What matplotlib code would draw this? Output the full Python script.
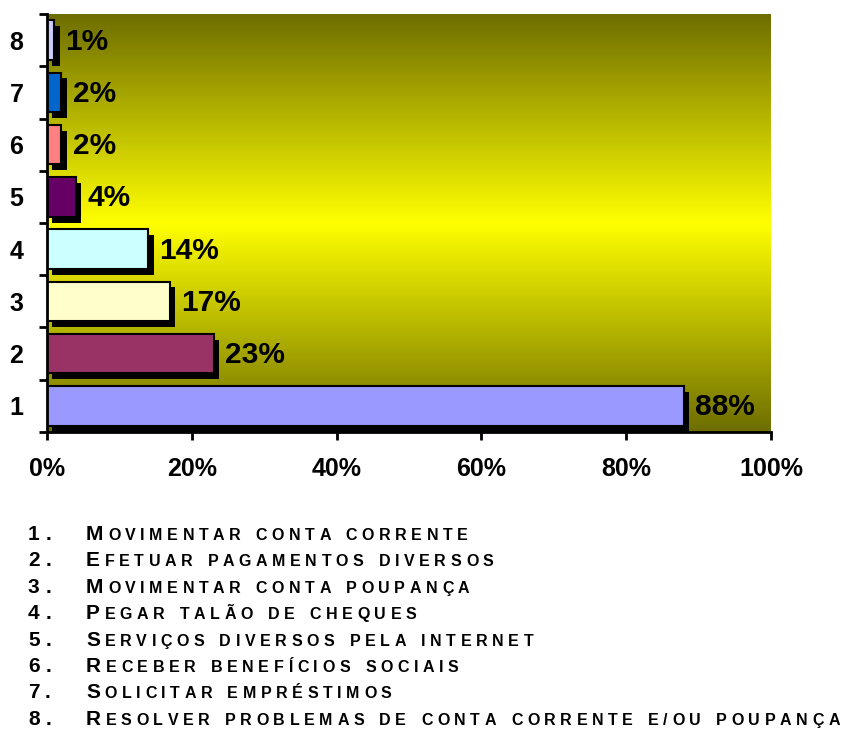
import numpy as np
import matplotlib
matplotlib.use("Agg")
import matplotlib.pyplot as plt
import matplotlib.patheffects as pe
from matplotlib import font_manager

# survey results: share of respondents per service (percent)
categories = ["1", "2", "3", "4", "5", "6", "7", "8"]
values = [88, 23, 17, 14, 4, 2, 2, 1]
bar_colors = ["#9999ff", "#993366", "#ffffcc", "#ccffff",
              "#660066", "#ff8080", "#0066cc", "#ccccff"]
descriptions = [
    "Movimentar conta corrente",
    "Efetuar pagamentos diversos",
    "Movimentar conta poupança",
    "Pegar talão de cheques",
    "Serviços diversos pela internet",
    "Receber benefícios sociais",
    "Solicitar empréstimos",
    "Resolver problemas de conta corrente e/ou poupança",
]
xticks = [0, 20, 40, 60, 80, 100]

names = {f.name for f in font_manager.fontManager.ttflist}
main_font = "Liberation Sans" if "Liberation Sans" in names else "DejaVu Sans"
narrow_font = "Liberation Sans Narrow" if "Liberation Sans Narrow" in names else main_font

W, H = 848, 733
fig = plt.figure(figsize=(W / 100, H / 100), dpi=100)
ax = fig.add_axes([47 / W, 1 - 432 / H, (771 - 47) / W, (432 - 14) / H])

# olive -> yellow -> olive vertical gradient behind the bars
t = np.linspace(0, 1, 256)
k = 1 - np.abs(t - 0.5) * 2
dark = np.array([0.43, 0.43, 0.0])
bright = np.array([1.0, 1.0, 0.0])
grad = dark[None, :] + (bright - dark)[None, :] * k[:, None]
ax.imshow(grad[:, None, :], extent=[0, 100, -0.5, 7.5], aspect="auto",
          zorder=0, interpolation="bilinear")

pos = np.arange(len(categories))
shadow = [pe.SimplePatchShadow(offset=(3.8, -4.3), shadow_rgbFace="black", alpha=1.0),
          pe.Normal()]
bars = ax.barh(pos, values, height=0.76, color=bar_colors, edgecolor="black",
               linewidth=1.5, zorder=3)
for b in bars:
    b.set_path_effects(shadow)

for p, v in zip(pos, values):
    ax.annotate(f"{v}%", xy=(v, p), xytext=(8, -1), textcoords="offset points",
                va="center", ha="left", fontsize=21.5, fontweight="bold",
                family=main_font, zorder=4)

ax.set_xlim(0, 100)
ax.set_ylim(-0.5, 7.5)
ax.set_xticks(xticks)
ax.set_xticklabels([f"{x}%" for x in xticks], fontsize=18, fontweight="bold",
                   family=main_font)
ax.set_yticks(np.arange(-0.5, 8, 1))
ax.set_yticklabels([])
ax.set_yticks(pos, minor=True)
ax.set_yticklabels(categories, minor=True, fontsize=18, fontweight="bold",
                   family=main_font)
ax.tick_params(axis="y", which="major", direction="out", length=6, width=2)
ax.tick_params(axis="y", which="minor", length=0, pad=17)
ax.tick_params(axis="x", direction="out", length=6, width=2, pad=12)
for s in ["top", "right"]:
    ax.spines[s].set_visible(False)
for s in ["left", "bottom"]:
    ax.spines[s].set_linewidth(2)
    ax.spines[s].set_zorder(5)

# numbered list in spaced small caps below the chart
fig.canvas.draw()
renderer = fig.canvas.get_renderer()
big, small, track = 15, 11.5, 4.6


def put(x, y, ch, size):
    txt = fig.text(x / W, 1 - y / H, ch, fontsize=size, fontweight="bold",
                   family=narrow_font, va="baseline", ha="left")
    if ch == " ":
        return x + size * 0.9
    return x + txt.get_window_extent(renderer).width + track


for i, desc in enumerate(descriptions):
    y = 540 + i * 26.4
    x = put(28, y, str(i + 1), big)
    put(x + 1, y, ".", big)
    x = 86
    x = put(x, y, desc[0].upper(), big)
    for ch in desc[1:]:
        x = put(x, y, ch.upper(), small)

fig.savefig("out.png", dpi=100)
